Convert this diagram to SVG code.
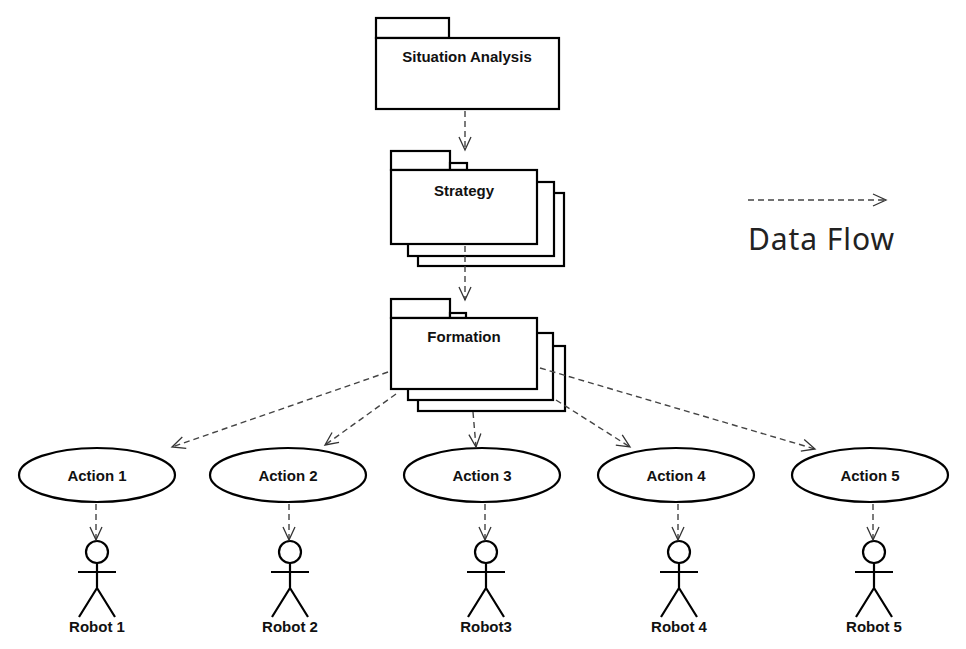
<svg xmlns="http://www.w3.org/2000/svg" width="966" height="649" viewBox="0 0 966 649">
<defs>
<marker id="a" markerWidth="20" markerHeight="20" refX="14" refY="7" orient="auto" markerUnits="userSpaceOnUse"><path d="M1,1 L14,7 L1,13" fill="none" stroke="#333" stroke-width="1.3"/></marker>
<style>
.b{fill:#fff;stroke:#000;stroke-width:2.2}
.t{font-family:"Liberation Sans",Arial,sans-serif;font-weight:bold;font-size:15px;text-anchor:middle;fill:#111}
.c{fill:none;stroke:#444;stroke-width:1.4;stroke-dasharray:6 4;marker-end:url(#a)}
.s{fill:none;stroke:#000;stroke-width:2.2}
</style>
</defs>
<rect width="966" height="649" fill="#fff"/>
<g id="situation"><rect class="b" x="376" y="18" width="73" height="20"/><rect class="b" x="376" y="38" width="183" height="71"/><text class="t" x="467" y="62">Situation Analysis</text></g>
<g id="strategy"><rect class="b" x="418" y="193" width="146" height="73"/><rect class="b" x="408" y="182" width="146" height="74"/><rect class="b" x="391" y="151" width="59" height="19"/><rect class="b" x="450" y="163" width="17" height="7"/><rect class="b" x="391" y="170" width="146" height="74"/><text class="t" x="464" y="196">Strategy</text></g>
<g id="formation"><rect class="b" x="418" y="346" width="147" height="65"/><rect class="b" x="408" y="333" width="145" height="67"/><rect class="b" x="391" y="299" width="59" height="19"/><rect class="b" x="450" y="313" width="16" height="5"/><rect class="b" x="391" y="318" width="146" height="71"/><text class="t" x="464" y="342">Formation</text></g>
<g id="action1"><ellipse class="b" cx="97" cy="475" rx="78" ry="27"/><text class="t" x="97" y="481">Action 1</text></g>
<g id="action2"><ellipse class="b" cx="288" cy="475" rx="78" ry="27"/><text class="t" x="288" y="481">Action 2</text></g>
<g id="action3"><ellipse class="b" cx="482" cy="475" rx="78" ry="27"/><text class="t" x="482" y="481">Action 3</text></g>
<g id="action4"><ellipse class="b" cx="676" cy="475" rx="78" ry="27"/><text class="t" x="676" y="481">Action 4</text></g>
<g id="action5"><ellipse class="b" cx="870" cy="475" rx="78" ry="27"/><text class="t" x="870" y="481">Action 5</text></g>
<g id="robot1" transform="translate(97,0)"><circle class="b" cx="0" cy="552" r="11"/><path class="s" d="M-19,572H19M0,563V588L-18,617M0,588L18,617"/><text class="t" x="0" y="632">Robot 1</text></g>
<g id="robot2" transform="translate(290,0)"><circle class="b" cx="0" cy="552" r="11"/><path class="s" d="M-19,572H19M0,563V588L-18,617M0,588L18,617"/><text class="t" x="0" y="632">Robot 2</text></g>
<g id="robot3" transform="translate(486,0)"><circle class="b" cx="0" cy="552" r="11"/><path class="s" d="M-19,572H19M0,563V588L-18,617M0,588L18,617"/><text class="t" x="0" y="632">Robot3</text></g>
<g id="robot4" transform="translate(679,0)"><circle class="b" cx="0" cy="552" r="11"/><path class="s" d="M-19,572H19M0,563V588L-18,617M0,588L18,617"/><text class="t" x="0" y="632">Robot 4</text></g>
<g id="robot5" transform="translate(874,0)"><circle class="b" cx="0" cy="552" r="11"/><path class="s" d="M-19,572H19M0,563V588L-18,617M0,588L18,617"/><text class="t" x="0" y="632">Robot 5</text></g>
<g id="connectors">
<line class="c" x1="465" y1="111" x2="465" y2="150"/>
<line class="c" x1="465" y1="246" x2="465" y2="300"/>
<line class="c" x1="388" y1="372" x2="172" y2="447"/>
<line class="c" x1="396" y1="394" x2="325" y2="445"/>
<line class="c" x1="473" y1="412" x2="476" y2="447"/>
<line class="c" x1="556" y1="400" x2="630" y2="447"/>
<line class="c" x1="540" y1="368" x2="815" y2="449"/>
<line class="c" x1="96" y1="504" x2="96" y2="540"/>
<line class="c" x1="289" y1="504" x2="289" y2="540"/>
<line class="c" x1="485" y1="504" x2="485" y2="540"/>
<line class="c" x1="678" y1="504" x2="678" y2="540"/>
<line class="c" x1="873" y1="504" x2="873" y2="540"/>
<line class="c" x1="748" y1="200" x2="886" y2="200"/>
</g>
<text x="748" y="250" font-family="'Noto Sans','DejaVu Sans',sans-serif" font-size="30" textLength="146" fill="#222">Data Flow</text>
</svg>
